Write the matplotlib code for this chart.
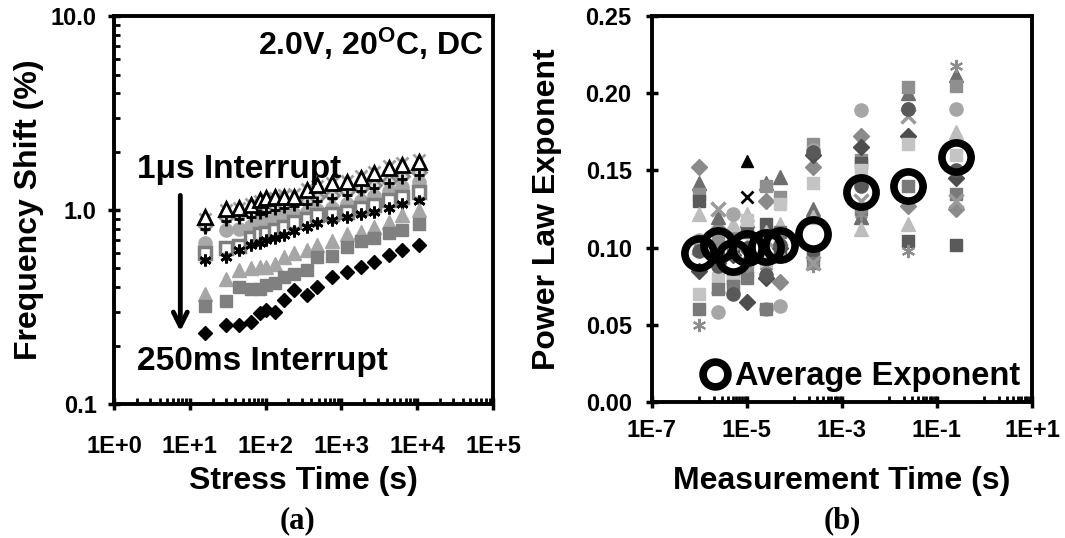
import numpy as np
import matplotlib
matplotlib.use("Agg")
import matplotlib.pyplot as plt
from matplotlib.ticker import FixedLocator, NullFormatter

plt.rcParams['font.family'] = ['Liberation Sans', 'DejaVu Sans']
plt.rcParams['font.weight'] = 'bold'
plt.rcParams['mathtext.fontset'] = 'custom'
plt.rcParams['mathtext.rm'] = 'Liberation Sans:bold'
plt.rcParams['mathtext.default'] = 'rm'

# ---- panel (a): frequency shift vs stress time ----
stress_time = [16, 30, 45, 65, 85, 100, 135, 175, 240, 350, 480, 760, 1180, 1800, 2700, 4300, 6300, 10500]

shift_open_tri = [0.92, 1.01, 1.02, 1.06, 1.13, 1.15, 1.17, 1.17, 1.17, 1.27, 1.35, 1.38, 1.39, 1.46, 1.55, 1.65, 1.71, 1.77]
shift_gray_x = [0.90, 1.00, 1.03, 1.08, 1.12, 1.14, 1.16, 1.19, 1.21, 1.28, 1.33, 1.38, 1.42, 1.50, 1.58, 1.68, 1.75, 1.82]
shift_gray_dia = [0.84, 0.92, 0.95, 0.97, 1.00, 1.02, 1.05, 1.08, 1.10, 1.12, 1.17, 1.20, 1.25, 1.30, 1.35, 1.42, 1.50, 1.58]
shift_plus = [0.80, 0.88, 0.90, 0.92, 0.95, 0.98, 1.00, 1.02, 1.05, 1.08, 1.12, 1.15, 1.20, 1.25, 1.30, 1.38, 1.45, 1.52]
shift_circle = [0.68, 0.79, 0.80, 0.83, 0.86, 0.88, 0.90, 0.93, 0.95, 0.98, 1.00, 1.02, 1.07, 1.12, 1.18, 1.25, 1.32, 1.40]
shift_open_sq = [0.60, 0.64, 0.65, 0.72, 0.75, 0.76, 0.79, 0.82, 0.87, 0.90, 0.94, 0.96, 0.98, 1.02, 1.06, 1.13, 1.17, 1.24]
shift_star = [0.55, 0.57, 0.62, 0.66, 0.68, 0.70, 0.72, 0.74, 0.78, 0.82, 0.86, 0.89, 0.92, 0.95, 0.98, 1.02, 1.07, 1.12]
shift_tri = [0.37, 0.44, 0.49, 0.50, 0.51, 0.51, 0.53, 0.57, 0.60, 0.62, 0.66, 0.69, 0.75, 0.77, 0.82, 0.87, 0.94, 1.00]
shift_sq = [0.32, 0.34, 0.40, 0.39, 0.39, 0.41, 0.42, 0.45, 0.47, 0.49, 0.57, 0.58, 0.645, 0.69, 0.72, 0.76, 0.79, 0.85]
shift_dia = [0.232, 0.255, 0.255, 0.265, 0.295, 0.305, 0.30, 0.343, 0.387, 0.365, 0.40, 0.45, 0.48, 0.51, 0.54, 0.585, 0.62, 0.66]

xticks_a = [1, 10, 100, 1000, 10000, 100000]
xticklabels_a = ['1E+0', '1E+1', '1E+2', '1E+3', '1E+4', '1E+5']
yticks_a = [0.1, 1.0, 10.0]
yticklabels_a = ['0.1', '1.0', '10.0']

# ---- panel (b): power law exponent vs measurement time ----
meas_time = [1e-6, 2.5e-6, 5e-6, 1e-5, 2.5e-5, 5e-5, 2.5e-4, 2.5e-3, 2.5e-2, 0.25]
avg_exponent = [0.0965, 0.1017, 0.094, 0.0997, 0.1004, 0.1017, 0.109, 0.136, 0.140, 0.159]

exp_a = [0.152, 0.112, 0.110, 0.100, 0.130, 0.078, 0.152, 0.172, 0.127, 0.125]
exp_b = [0.142, 0.120, 0.105, 0.118, 0.142, 0.146, 0.125, 0.120, 0.200, 0.212]
exp_c = [0.135, 0.105, 0.080, 0.085, 0.140, 0.133, 0.167, 0.157, 0.204, 0.205]
exp_d = [0.130, 0.095, 0.100, 0.110, 0.115, 0.100, 0.095, 0.155, 0.104, 0.102]
exp_e = [0.122, 0.075, 0.115, 0.122, 0.110, 0.115, 0.120, 0.112, 0.115, 0.175]
exp_f = [0.105, 0.058, 0.122, 0.090, 0.060, 0.062, 0.163, 0.189, 0.190, 0.190]
exp_g = [0.085, 0.090, 0.095, 0.065, 0.080, 0.100, 0.160, 0.165, 0.172, 0.145]
exp_h = [0.070, 0.080, 0.078, 0.118, 0.090, 0.128, 0.142, 0.150, 0.167, 0.160]
exp_i = [0.060, 0.073, 0.075, 0.080, 0.060, 0.110, 0.090, 0.125, 0.140, 0.135]
exp_j = [0.050, 0.100, 0.098, 0.088, 0.088, 0.102, 0.088, 0.122, 0.098, 0.218]
exp_k = [0.100, 0.125, 0.098, 0.095, 0.105, 0.098, 0.090, 0.130, 0.185, 0.130]
exp_l = [0.098, 0.088, 0.070, 0.100, 0.082, 0.102, 0.162, 0.140, 0.190, 0.150]
exp_m = [np.nan, np.nan, np.nan, 0.133, np.nan, np.nan, np.nan, np.nan, np.nan, np.nan]
exp_n = [np.nan, np.nan, np.nan, 0.156, np.nan, np.nan, np.nan, np.nan, np.nan, np.nan]

xticks_b = [1e-7, 1e-5, 1e-3, 1e-1, 1e1]
xticklabels_b = ['1E-7', '1E-5', '1E-3', '1E-1', '1E+1']
yticks_b = [0.0, 0.05, 0.10, 0.15, 0.20, 0.25]
yticklabels_b = ['0.00', '0.05', '0.10', '0.15', '0.20', '0.25']

asterisk = (6, 2, 0)

fig = plt.figure(figsize=(10.65, 5.38), dpi=100)
ax1 = fig.add_axes([0.107, 0.249, 0.356, 0.721])
ax2 = fig.add_axes([0.612, 0.253, 0.357, 0.717])

# panel (a)
ms = 8.5
ax1.plot(stress_time, shift_gray_x, ls='none', marker='x', ms=ms, mew=2, color='#a0a0a0')
ax1.plot(stress_time, shift_gray_dia, ls='none', marker='D', ms=7, mew=2, mfc='#d8d8d8', mec='#8c8c8c')
ax1.plot(stress_time, shift_circle, ls='none', marker='o', ms=ms + 1, color='#a8a8a8')
ax1.plot(stress_time, shift_plus, ls='none', marker='+', ms=7, mew=2, color='black')
ax1.plot(stress_time, shift_open_sq, ls='none', marker='s', ms=ms, mew=2.5, mfc='white', mec='#7f7f7f')
ax1.plot(stress_time, shift_star, ls='none', marker=asterisk, ms=ms, mew=2, color='black')
ax1.plot(stress_time, shift_tri, ls='none', marker='^', ms=ms + 1, color='#a6a6a6')
ax1.plot(stress_time, shift_sq, ls='none', marker='s', ms=ms, color='#808080')
ax1.plot(stress_time, shift_dia, ls='none', marker='D', ms=7.5, color='black')
ax1.plot(stress_time, shift_open_tri, ls='none', marker='^', ms=ms + 1, mew=2, mfc='white', mec='black')

ax1.set_xscale('log')
ax1.set_yscale('log')
ax1.set_xlim(1, 1e5)
ax1.set_ylim(0.1, 10)
ax1.xaxis.set_major_locator(FixedLocator(xticks_a))
ax1.set_xticklabels(xticklabels_a)
ax1.yaxis.set_major_locator(FixedLocator(yticks_a))
ax1.set_yticklabels(yticklabels_a)
ax1.xaxis.set_minor_locator(FixedLocator([k * 10.0 ** e for e in range(0, 5) for k in range(2, 10)]))
ax1.yaxis.set_minor_locator(FixedLocator([k * 10.0 ** e for e in (-1, 0) for k in range(2, 10)]))
ax1.xaxis.set_minor_formatter(NullFormatter())
ax1.yaxis.set_minor_formatter(NullFormatter())

ax1.text(0.975, 0.975, '2.0V, 20$^{O}$C, DC', transform=ax1.transAxes, ha='right', va='top',
         fontsize=23, fontweight='bold')
ax1.text(0.06, 0.605, '1\u03bcs Interrupt', transform=ax1.transAxes, ha='left', va='center',
         fontsize=24, fontweight='bold')
ax1.text(0.06, 0.11, '250ms Interrupt', transform=ax1.transAxes, ha='left', va='center',
         fontsize=24, fontweight='bold')
ax1.annotate('', xy=(0.175, 0.18), xytext=(0.175, 0.545), xycoords='axes fraction',
             arrowprops=dict(arrowstyle='->', lw=3.5, color='black', mutation_scale=25))

ax1.set_xlabel('Stress Time (s)', fontsize=23, fontweight='bold')
ax1.set_ylabel('Frequency Shift (%)', fontsize=23, fontweight='bold')
ax1.xaxis.set_label_coords(0.5, -0.16)
ax1.yaxis.set_label_coords(-0.185, 0.5)

# panel (b)
ms2 = 9.5
ax2.plot(meas_time, exp_a, ls='none', marker='D', ms=ms2 - 1, color='#8a8a8a')
ax2.plot(meas_time, exp_b, ls='none', marker='^', ms=ms2, color='#6e6e6e')
ax2.plot(meas_time, exp_c, ls='none', marker='s', ms=ms2 - 1, color='#8f8f8f')
ax2.plot(meas_time, exp_d, ls='none', marker='s', ms=ms2 - 1, color='#5a5a5a')
ax2.plot(meas_time, exp_e, ls='none', marker='^', ms=ms2, color='#bdbdbd')
ax2.plot(meas_time, exp_f, ls='none', marker='o', ms=ms2, color='#a6a6a6')
ax2.plot(meas_time, exp_g, ls='none', marker='D', ms=ms2 - 1, color='#4d4d4d')
ax2.plot(meas_time, exp_h, ls='none', marker='s', ms=ms2 - 1, color='#c4c4c4')
ax2.plot(meas_time, exp_i, ls='none', marker='s', ms=ms2 - 1, color='#7a7a7a')
ax2.plot(meas_time, exp_j, ls='none', marker=asterisk, ms=ms2, mew=1.5, color='#8c8c8c')
ax2.plot(meas_time, exp_k, ls='none', marker='x', ms=ms2, mew=2.5, color='#9a9a9a')
ax2.plot(meas_time, exp_l, ls='none', marker='o', ms=ms2, color='#595959')
ax2.plot(meas_time, exp_m, ls='none', marker='x', ms=ms2 - 1, mew=2, color='black')
ax2.plot(meas_time, exp_n, ls='none', marker='^', ms=ms2 - 1, color='black')
avg_line, = ax2.plot(meas_time, avg_exponent, ls='none', marker='o', ms=21, mew=5.5,
                     mfc='none', mec='black', label='Average Exponent')

ax2.set_xscale('log')
ax2.set_xlim(1e-7, 10)
ax2.set_ylim(0, 0.25)
ax2.xaxis.set_major_locator(FixedLocator(xticks_b))
ax2.set_xticklabels(xticklabels_b)
ax2.yaxis.set_major_locator(FixedLocator(yticks_b))
ax2.set_yticklabels(yticklabels_b)
ax2.xaxis.set_minor_locator(FixedLocator([k * 10.0 ** e for e in (-6, -4, -2, 0) for k in range(1, 10)]))
ax2.xaxis.set_minor_formatter(NullFormatter())

leg = ax2.legend(handles=[avg_line], loc='center right', bbox_to_anchor=(0.968, 0.065),
                 frameon=False, borderpad=0, borderaxespad=0,
                 handlelength=0.6, handletextpad=0.3, markerscale=0.85,
                 prop={'weight': 'bold', 'size': 23.5})

ax2.set_xlabel('Measurement Time (s)', fontsize=23, fontweight='bold')
ax2.set_ylabel('Power Law Exponent', fontsize=23, fontweight='bold')
ax2.xaxis.set_label_coords(0.5, -0.165)
ax2.yaxis.set_label_coords(-0.237, 0.5)

for ax in (ax1, ax2):
    for sp in ax.spines.values():
        sp.set_linewidth(2.8)
    ax.tick_params(which='major', direction='inout', length=9, width=2.5, top=False, right=False)
    ax.tick_params(which='minor', direction='in', length=4, width=2, top=False, right=False)
    ax.tick_params(axis='both', labelsize=17)
    for lbl in ax.get_xticklabels() + ax.get_yticklabels():
        lbl.set_fontweight('bold')
ax1.tick_params(axis='x', which='major', pad=18)
ax1.tick_params(axis='y', which='major', pad=8)
ax2.tick_params(axis='x', which='major', pad=8)
ax2.tick_params(axis='y', which='major', pad=10)

fig.text(0.279, 0.032, '(a)', ha='center', va='center', fontsize=22, fontweight='bold',
         family=['Liberation Serif', 'DejaVu Serif'])
fig.text(0.791, 0.032, '(b)', ha='center', va='center', fontsize=22, fontweight='bold',
         family=['Liberation Serif', 'DejaVu Serif'])

fig.savefig('out.png', dpi=100)
